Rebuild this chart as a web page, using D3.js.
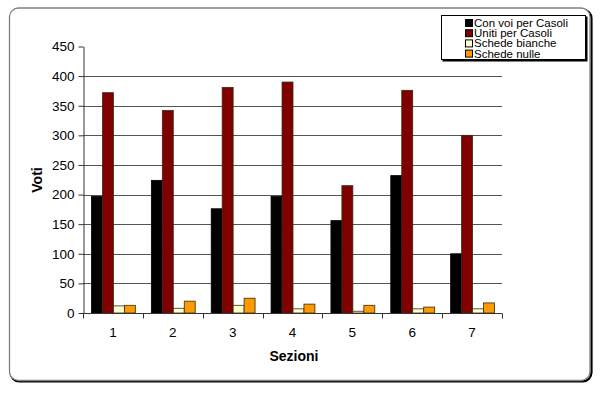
<!DOCTYPE html>
<html>
<head>
<meta charset="utf-8">
<script src="https://cdn.jsdelivr.net/npm/d3@7"></script>
<style>
  body { margin: 0; background: #fff; }
  text { font-family: "Liberation Sans", Arial, sans-serif; }
</style>
</head>
<body>
<div id="main"></div>
<script>
// dati
const sezioni = ['1', '2', '3', '4', '5', '6', '7'];
const serie = ['Con voi per Casoli', 'Uniti per Casoli', 'Schede bianche', 'Schede nulle'];
const conVoi = [197, 224, 176, 197, 156, 232, 100];
const unitiPer = [372, 342, 381, 390, 215, 376, 300];
const bianche = [12, 8, 13, 7, 3, 7, 7];
const nulle = [13, 20, 25, 15, 13, 10, 17];
const yTicks = [0, 50, 100, 150, 200, 250, 300, 350, 400, 450];
const colori = ['#000000', '#800000', '#ffffcc', '#ff9900'];

const valori = [conVoi, unitiPer, bianche, nulle];
const width = 600, height = 394;
const mLeft = 83, mRight = 502, mTop = 46.5, mBottom = 313;

const svg = d3.select('#main').append('svg')
    .attr('width', width)
    .attr('height', height);

// cornice esterna con ombra
svg.append('rect')
    .attr('x', 10.5).attr('y', 9.5)
    .attr('width', 581).attr('height', 372)
    .attr('rx', 9)
    .attr('fill', 'none')
    .attr('stroke', '#000')
    .attr('stroke-width', 2.2);
svg.append('rect')
    .attr('x', 9.5).attr('y', 8)
    .attr('width', 580.5).attr('height', 372.5)
    .attr('rx', 9)
    .attr('fill', '#fff')
    .attr('stroke', '#808080')
    .attr('stroke-width', 1.3);

const x0 = d3.scaleBand().domain(sezioni).range([mLeft, mRight]).paddingInner(0).paddingOuter(0);
const x1 = d3.scaleBand().domain(serie).range([8.5, x0.bandwidth() - 7.5]);
const y = d3.scaleLinear().domain([0, 450]).range([mBottom, mTop]);

// griglia
svg.append('g')
    .selectAll('line')
    .data(yTicks.filter(t => t > 0 && t < 450))
    .join('line')
    .attr('x1', mLeft).attr('x2', mRight)
    .attr('y1', d => Math.round(y(d)) + 0.5)
    .attr('y2', d => Math.round(y(d)) + 0.5)
    .attr('stroke', '#555')
    .attr('stroke-width', 1);

// barre
const gruppi = svg.append('g')
    .selectAll('g')
    .data(sezioni)
    .join('g')
    .attr('transform', d => `translate(${x0(d)},0)`);

gruppi.selectAll('rect')
    .data((d, i) => serie.map((s, j) => ({ s: s, v: valori[j][i], c: colori[j] })))
    .join('rect')
    .attr('x', d => x1(d.s))
    .attr('y', d => y(d.v))
    .attr('width', x1.bandwidth())
    .attr('height', d => y(0) - y(d.v))
    .attr('fill', d => d.c)
    .attr('stroke', d => d.c === '#000000' ? '#000' : '#3a2a10')
    .attr('stroke-width', 0.8);

// assi
const yAxis = d3.axisLeft(y).tickValues(yTicks).tickSize(5).tickPadding(4).tickSizeOuter(0);
const gy = svg.append('g')
    .attr('transform', `translate(${mLeft + 0.5},0)`)
    .call(yAxis);
gy.select('.domain').attr('stroke', '#333');
gy.selectAll('.tick line').attr('stroke', '#333');
gy.selectAll('text').attr('font-size', 13.5).attr('fill', '#000');

const gx = svg.append('g')
    .attr('transform', `translate(0,${mBottom + 0.5})`);
gx.append('line')
    .attr('x1', mLeft).attr('x2', mRight)
    .attr('stroke', '#333');
gx.selectAll('line.tk')
    .data(d3.range(sezioni.length + 1))
    .join('line')
    .attr('class', 'tk')
    .attr('x1', i => Math.round(mLeft + i * x0.step()) + 0.5)
    .attr('x2', i => Math.round(mLeft + i * x0.step()) + 0.5)
    .attr('y1', 0).attr('y2', 5)
    .attr('stroke', '#333');
gx.selectAll('text')
    .data(sezioni)
    .join('text')
    .attr('x', d => x0(d) + x0.bandwidth() / 2)
    .attr('y', 23)
    .attr('text-anchor', 'middle')
    .attr('font-size', 13.5)
    .text(d => d);

// etichette assi
svg.append('text')
    .attr('x', -180)
    .attr('y', 42)
    .attr('transform', 'rotate(-90)')
    .attr('text-anchor', 'middle')
    .attr('font-size', 14)
    .attr('font-weight', 'bold')
    .text('Voti');

svg.append('text')
    .attr('x', 294)
    .attr('y', 361)
    .attr('text-anchor', 'middle')
    .attr('font-size', 14)
    .attr('font-weight', 'bold')
    .text('Sezioni');

// legenda
const leg = svg.append('g').attr('transform', 'translate(441,15)');
leg.append('rect')
    .attr('x', 1.5).attr('y', 1.5)
    .attr('width', 145).attr('height', 45)
    .attr('fill', '#000');
leg.append('rect')
    .attr('x', 0.5).attr('y', 0.5)
    .attr('width', 144).attr('height', 44)
    .attr('fill', '#fff')
    .attr('stroke', '#000')
    .attr('stroke-width', 1);
const voci = leg.selectAll('g')
    .data(serie)
    .join('g')
    .attr('transform', (d, i) => `translate(24,${8 + i * 10.2})`);
voci.append('rect')
    .attr('x', 0.5).attr('y', -3.5)
    .attr('width', 7).attr('height', 7)
    .attr('fill', (d, i) => colori[i])
    .attr('stroke', '#000')
    .attr('stroke-width', 1);
voci.append('text')
    .attr('x', 9)
    .attr('y', 4)
    .attr('font-size', 11.5)
    .text(d => d);
</script>
</body>
</html>
